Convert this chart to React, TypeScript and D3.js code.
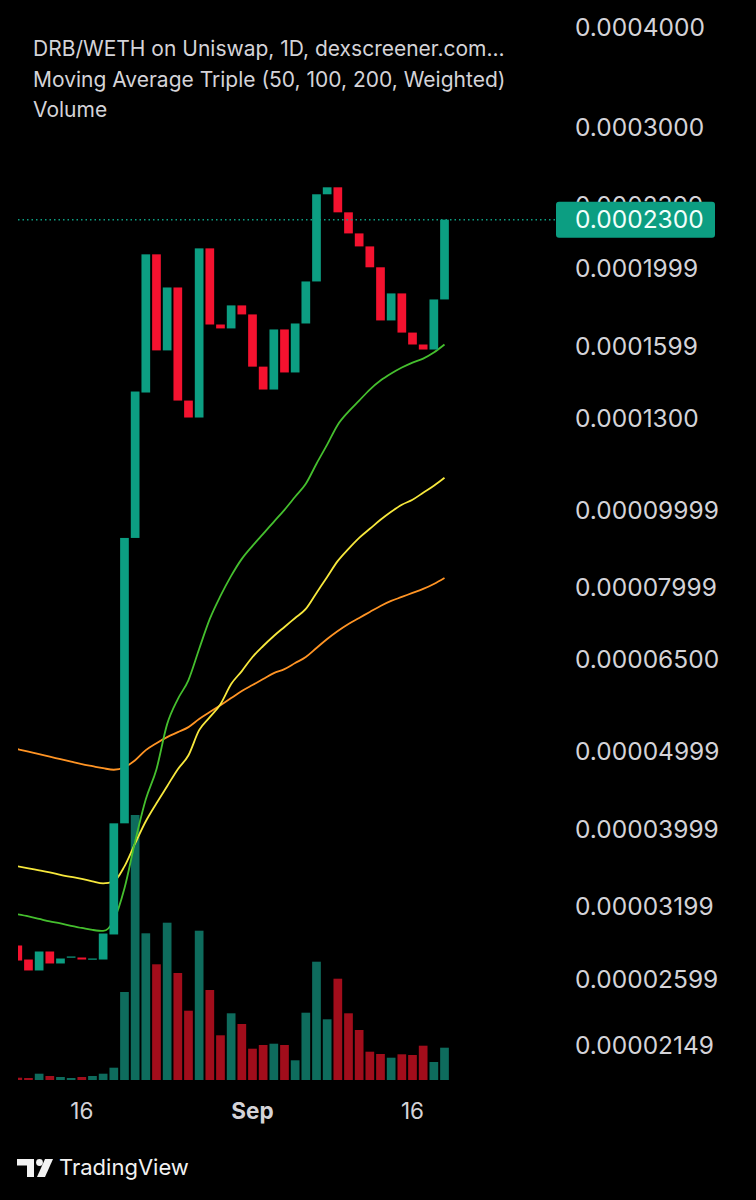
import React from "react";
import * as d3 from "d3";

// ---- data ----
const startDate = "2024-08-10";
const endDate = "2024-09-19";

const candleOpen = [
  2.860e-5, 2.747e-5, 2.662e-5, 2.811e-5, 2.716e-5, 2.763e-5, 2.763e-5, 2.747e-5, 2.747e-5, 2.952e-5,
  4.062e-5, 9.22e-5, 1.400e-4, 2.082e-4, 1.580e-4, 1.893e-4, 1.368e-4, 1.303e-4, 2.118e-4, 1.702e-4,
  1.683e-4, 1.798e-4, 1.752e-4, 1.508e-4, 1.412e-4, 1.678e-4, 1.483e-4, 1.707e-4, 1.926e-4, 2.474e-4,
  2.524e-4, 2.349e-4, 2.211e-4, 2.130e-4, 2.006e-4, 1.722e-4, 1.861e-4, 1.663e-4, 1.607e-4, 1.584e-4,
  1.829e-4,
];
const candleClose = [
  2.739e-5, 2.662e-5, 2.811e-5, 2.716e-5, 2.755e-5, 2.771e-5, 2.747e-5, 2.755e-5, 2.960e-5, 4.062e-5,
  9.22e-5, 1.404e-4, 2.082e-4, 1.580e-4, 1.893e-4, 1.368e-4, 1.303e-4, 2.118e-4, 1.702e-4, 1.683e-4,
  1.798e-4, 1.752e-4, 1.508e-4, 1.412e-4, 1.678e-4, 1.483e-4, 1.707e-4, 1.926e-4, 2.474e-4, 2.524e-4,
  2.349e-4, 2.211e-4, 2.130e-4, 2.006e-4, 1.722e-4, 1.861e-4, 1.663e-4, 1.607e-4, 1.584e-4, 1.829e-4,
  2.300e-4,
];
const volumeK = [
  2.3, 2, 6.3, 4, 3, 2, 3, 4, 6.3, 12.3,
  88, 265, 146.7, 115.7, 157.3, 107, 69.3, 149.3, 90, 44.7,
  66.7, 56, 31.3, 35, 36.3, 35, 19.7, 67.3, 118.3, 60.7,
  101.3, 66.7, 50, 28.3, 26, 22.3, 25.7, 25, 34.3, 18,
  32.3,
];
const ma50 = [
  3.127e-5, 3.109e-5, 3.087e-5, 3.065e-5, 3.047e-5, 3.025e-5, 3.008e-5, 2.991e-5, 2.982e-5, 3.074e-5,
  3.370e-5, 3.857e-5, 4.353e-5, 4.746e-5, 5.401e-5, 5.804e-5, 6.130e-5, 6.702e-5, 7.306e-5, 7.805e-5,
  8.267e-5, 8.682e-5, 9.013e-5, 9.330e-5, 9.657e-5, 9.996e-5, 1.0377e-4, 1.0772e-4, 1.1411e-4, 1.2052e-4,
  1.2766e-4, 1.3253e-4, 1.3678e-4, 1.4119e-4, 1.4488e-4, 1.4783e-4, 1.5040e-4, 1.5258e-4, 1.5434e-4, 1.5704e-4,
  1.6069e-4,
];
const ma100 = [
  3.590e-5, 3.570e-5, 3.549e-5, 3.529e-5, 3.504e-5, 3.483e-5, 3.464e-5, 3.439e-5, 3.419e-5, 3.439e-5,
  3.590e-5, 3.835e-5, 4.086e-5, 4.303e-5, 4.519e-5, 4.746e-5, 4.940e-5, 5.308e-5, 5.510e-5, 5.720e-5,
  6.060e-5, 6.290e-5, 6.549e-5, 6.760e-5, 6.957e-5, 7.140e-5, 7.327e-5, 7.519e-5, 7.873e-5, 8.244e-5,
  8.632e-5, 8.936e-5, 9.223e-5, 9.465e-5, 9.713e-5, 9.939e-5, 1.0141e-4, 1.0289e-4, 1.0498e-4, 1.0712e-4,
  1.0961e-4,
];
const ma200 = [
  5.026e-5, 4.990e-5, 4.954e-5, 4.919e-5, 4.883e-5, 4.848e-5, 4.814e-5, 4.786e-5, 4.759e-5, 4.738e-5,
  4.772e-5, 4.869e-5, 5.012e-5, 5.113e-5, 5.203e-5, 5.278e-5, 5.355e-5, 5.480e-5, 5.591e-5, 5.704e-5,
  5.821e-5, 5.939e-5, 6.042e-5, 6.147e-5, 6.254e-5, 6.326e-5, 6.437e-5, 6.549e-5, 6.721e-5, 6.897e-5,
  7.058e-5, 7.202e-5, 7.327e-5, 7.455e-5, 7.584e-5, 7.694e-5, 7.783e-5, 7.873e-5, 7.964e-5, 8.079e-5,
  8.220e-5,
];
const priceTickLabels = [
  "0.0004000", "0.0003000", "0.0002399", "0.0001999", "0.0001599", "0.0001300", "0.00009999",
  "0.00007999", "0.00006500", "0.00004999", "0.00003999", "0.00003199", "0.00002599", "0.00002149",
];
const timeTickDates = ["2024-08-16", "2024-09-01", "2024-09-16"];
const timeTickLabels = ["16", "Sep", "16"];
const legendLines = [
  "DRB/WETH on Uniswap, 1D, dexscreener.com...",
  "Moving Average Triple (50, 100, 200, Weighted)",
  "Volume",
];
const lastPriceLabel = "0.0002300";
const lastPrice = 0.00023;

// ---- styles ----
const BG = "#000000";
const UP = "#0c9e82";
const DOWN = "#f4122f";
const VOL_UP = "#0e6c5d";
const VOL_DOWN = "#a20d1b";
const TXT = "#d4d3d8";
const FONT = "Inter, Roboto, 'Noto Sans', sans-serif";

export default function App() {
  const W = 756;
  const H = 1200;
  const dates = d3.utcDay.range(new Date(startDate + "T00:00:00Z"), new Date(endDate + "T00:00:01Z"));
  const x = d3
    .scaleUtc()
    .domain([dates[0], dates[dates.length - 1]])
    .range([17.8, 444.5]);
  const y = d3.scaleLog().domain([0.0004, 0.00002149]).range([27, 1045]);
  const v = d3.scaleLinear().domain([0, d3.max(volumeK) as number]).range([1080, 815]);
  const bw = 8.7;

  const line = (vals: number[]) =>
    d3
      .line<number>()
      .x((_, i) => x(dates[i]))
      .y((d) => y(d))
      .curve(d3.curveMonotoneX)(vals) as string;

  const axisX = 575;
  const plotLeft = 18;
  const plotRight = 556;

  return (
    <div style={{ position: "fixed", left: 0, top: 0, width: W, height: H, background: BG }}>
      <svg width={W} height={H} style={{ display: "block", background: BG }} fontFamily={FONT}>
        <defs>
          <clipPath id="plot">
            <rect x={plotLeft} y={0} width={plotRight - plotLeft} height={1085} />
          </clipPath>
        </defs>

        <g clipPath="url(#plot)">
          {/* volume */}
          {volumeK.map((vol, i) => (
            <rect
              key={"v" + i}
              x={x(dates[i]) - bw / 2}
              y={v(vol)}
              width={bw}
              height={1080 - v(vol)}
              fill={candleClose[i] >= candleOpen[i] ? VOL_UP : VOL_DOWN}
            />
          ))}

          {/* moving averages */}
          <path d={line(ma200)} fill="none" stroke="#ff9424" strokeWidth={1.8} />
          <path d={line(ma100)} fill="none" stroke="#f7e83c" strokeWidth={1.8} />
          <path d={line(ma50)} fill="none" stroke="#45bf2e" strokeWidth={1.8} />

          {/* candles */}
          {candleOpen.map((o, i) => {
            const c = candleClose[i];
            const top = Math.min(y(o), y(c));
            const h = Math.max(1.2, Math.abs(y(o) - y(c)));
            return (
              <rect
                key={"c" + i}
                x={x(dates[i]) - bw / 2}
                y={top}
                width={bw}
                height={h}
                fill={c >= o ? UP : DOWN}
              />
            );
          })}
        </g>

        {/* last price line */}
        <line
          x1={plotLeft}
          x2={plotRight}
          y1={y(lastPrice)}
          y2={y(lastPrice)}
          stroke={UP}
          strokeWidth={1.5}
          strokeDasharray="1.5 3"
        />

        {/* legend */}
        {legendLines.map((t, i) => (
          <text key={"l" + i} x={33} y={56 + i * 30.5} fontSize={21} fill={TXT}>
            {t}
          </text>
        ))}

        {/* price axis labels */}
        {priceTickLabels.map((t) => (
          <text key={t} x={axisX} y={y(+t)} dy="0.36em" fontSize={24.5} fill={TXT}>
            {t}
          </text>
        ))}

        {/* last price tag */}
        <rect x={556} y={y(lastPrice) - 18} width={159} height={36} rx={3} fill={UP} />
        <text x={axisX} y={y(lastPrice)} dy="0.36em" fontSize={24.5} fill="#f2fffb">
          {lastPriceLabel}
        </text>

        {/* time axis labels */}
        {timeTickLabels.map((t, i) => (
          <text
            key={"t" + i}
            x={x(new Date(timeTickDates[i] + "T00:00:00Z"))}
            y={1119}
            textAnchor="middle"
            fontSize={22.5}
            fontWeight={t === "Sep" ? 700 : 400}
            fill={TXT}
          >
            {t}
          </text>
        ))}

        {/* TradingView logo */}
        <g fill="#f2f2f2">
          <rect x={17} y={1159} width={17} height={6.5} />
          <rect x={27} y={1159} width={7} height={18} />
          <circle cx={39.5} cy={1162.5} r={3.4} />
          <polygon points="45,1159 53,1159 45,1177 37,1177" />
        </g>
        <text x={59} y={1175} fontSize={22} fill="#f2f2f2">
          TradingView
        </text>
      </svg>
    </div>
  );
}
